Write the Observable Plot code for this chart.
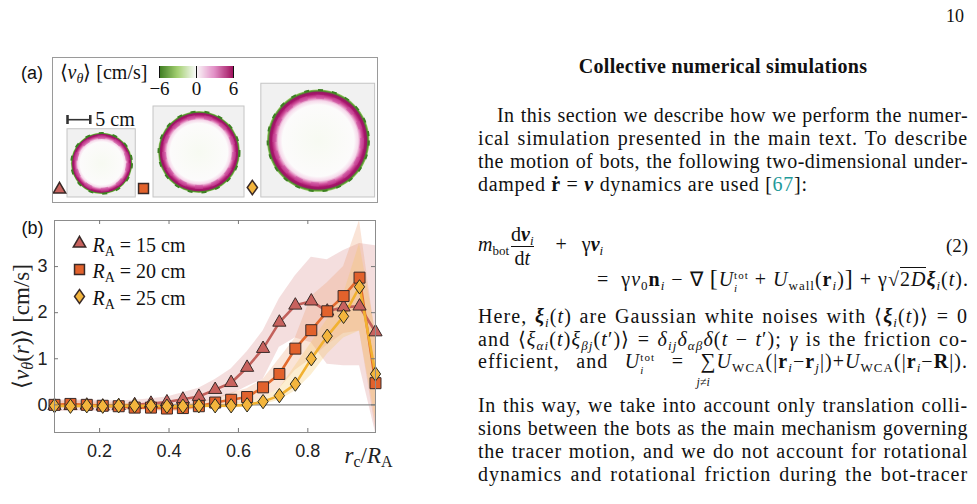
<!DOCTYPE html>
<html><head><meta charset="utf-8">
<script src="https://cdn.jsdelivr.net/npm/d3@7"></script>
<script src="https://cdn.jsdelivr.net/npm/@observablehq/plot@0.6"></script>
<style>
html,body{margin:0;padding:0;background:#fff;}
#page{position:relative;width:977px;height:504px;overflow:hidden;font-family:"Liberation Serif","Times New Roman",serif;color:#111;}
.abs{position:absolute;}
.ln{position:absolute;left:478px;width:490px;font-size:20px;line-height:23px;height:23px;white-space:nowrap;text-align:justify;text-align-last:justify;}
.ln.last{text-align-last:left;}
sub,sup{font-size:13px;line-height:0;}
sub{vertical-align:-4px;}
sup{vertical-align:7px;}
.frac{display:inline-block;vertical-align:middle;text-align:center;line-height:23px;margin:0 2px;}
.frac>span{display:block;}
.den{border-top:1px solid #111;}
.ss{display:inline-block;vertical-align:-6px;font-size:11px;line-height:13px;}
.ss>span{display:block;}
.sans{font-family:"Liberation Sans",Arial,sans-serif;}
.sum{position:relative;display:inline-block;font-size:21px;line-height:18px;}
.sum .lim{position:absolute;left:-4px;top:24px;font-size:12px;line-height:12px;font-style:italic;letter-spacing:0;}
</style></head>
<body><div id="page">
  <div class="abs" style="left:946px;top:6px;font-size:18px;">10</div>
  <div class="abs" style="left:478px;width:490px;top:55px;text-align:center;font-size:20px;font-weight:bold;letter-spacing:0.3px;">Collective numerical simulations</div>

  <div class="ln fit" data-f="0.8" style="top:104px;text-indent:19px;">In this section we describe how we perform the numer-</div>
  <div class="ln fit" data-f="0.8" style="top:127px;">ical simulation presented in the main text. To describe</div>
  <div class="ln fit" data-f="0.8" style="top:150px;">the motion of bots, the following two-dimensional under-</div>
  <div class="ln last" style="top:173px;">damped <b>ṙ</b> = <b><i>ν</i></b> dynamics are used [<span style="color:#1f9a9a">67</span>]:</div>

  <div class="abs" style="left:478px;top:223px;font-size:20px;white-space:nowrap;"><i>m</i><sub>bot</sub><span class="frac"><span>d<b><i>ν</i></b><sub><i>i</i></sub></span><span class="den">d<i>t</i></span></span>&nbsp;&nbsp;&nbsp; + &nbsp;&nbsp;γ<b><i>ν</i></b><sub><i>i</i></sub></div>
  <div class="abs" style="left:946px;top:235px;font-size:19px;">(2)</div>
  <div class="abs fit" data-f="1" data-w="373" style="left:597px;top:265px;font-size:20px;white-space:nowrap;">= &nbsp;γ<i>ν</i><sub>0</sub><b>n</b><sub><i>i</i></sub> − ∇ <span style="font-size:24px">[</span><i>U</i><span class="ss"><span>tot</span><span><i>i</i></span></span> + <i>U</i><sub>wall</sub>(<b>r</b><sub><i>i</i></sub>)<span style="font-size:24px">]</span> + γ√<span style="border-top:1px solid #111">2<i>D</i></span><b><i>ξ</i></b><sub><i>i</i></sub>(<i>t</i>).</div>

  <div class="ln fit" data-f="0.8" style="top:305px;">Here, <b><i>ξ</i></b><sub><i>i</i></sub>(<i>t</i>) are Gaussian white noises with ⟨<b><i>ξ</i></b><sub><i>i</i></sub>(<i>t</i>)⟩ = 0</div>
  <div class="ln fit" data-f="0.85" style="top:328px;">and ⟨<i>ξ</i><sub><i>αi</i></sub>(<i>t</i>)<i>ξ</i><sub><i>βj</i></sub>(<i>t</i>′)⟩ = <i>δ</i><sub><i>ij</i></sub><i>δ</i><sub><i>αβ</i></sub><i>δ</i>(<i>t</i> − <i>t</i>′); <i>γ</i> is the friction co-</div>
  <div class="ln fit" data-f="0.6" style="top:350px;">efficient, and <i>U</i><span class="ss"><span>tot</span><span><i>i</i></span></span> = <span class="sum">∑<span class="lim">j≠i</span></span><i>U</i><sub>WCA</sub>(|<b>r</b><sub><i>i</i></sub>−<b>r</b><sub><i>j</i></sub>|)+<i>U</i><sub>WCA</sub>(|<b>r</b><sub><i>i</i></sub>−<b>R</b>|).</div>
  <div class="ln fit" data-f="0.8" style="top:394px;">In this way, we take into account only translation colli-</div>
  <div class="ln fit" data-f="0.8" style="top:417px;">sions between the bots as the main mechanism governing</div>
  <div class="ln fit" data-f="0.8" style="top:440px;">the tracer motion, and we do not account for rotational</div>
  <div class="ln fit" data-f="0.8" style="top:463px;">dynamics and rotational friction during the bot-tracer</div>

  <div class="abs sans" style="left:21px;top:63px;font-size:18px;">(a)</div>
  <div id="panelA" class="abs" style="left:52px;top:57px;"></div>
  <div id="cbar" class="abs" style="left:147px;top:66px;"></div>
  <div id="panelB" class="abs" style="left:0px;top:200px;"></div>
</div>
<svg width="0" height="0" style="position:absolute">
  <defs>
    <radialGradient id="ringGrad" cx="50%" cy="50%" r="50%">
      <stop offset="0%" stop-color="#f7faf2"/>
      <stop offset="70%" stop-color="#fcfbfb"/>
      <stop offset="78%" stop-color="#f6d8ea"/>
      <stop offset="85%" stop-color="#d356a0"/>
      <stop offset="91%" stop-color="#a8146b"/>
      <stop offset="94.5%" stop-color="#951a63"/>
      <stop offset="97%" stop-color="#4f8f2c"/>
      <stop offset="100%" stop-color="#9ccf6a"/>
    </radialGradient>
  </defs>
</svg>
<script>
// ---------- data: panel (b) ----------
const rcOverRA = [0.070, 0.116, 0.163, 0.209, 0.255, 0.301, 0.348, 0.394, 0.440, 0.486, 0.533, 0.579, 0.625, 0.671, 0.718, 0.764, 0.810, 0.856, 0.903, 0.949, 0.995];
const seriesNames = ["R_A = 15 cm", "R_A = 20 cm", "R_A = 25 cm"];
const v15 = [-0.02,-0.02,-0.01,-0.03,-0.02,0.00,0.03,0.06,0.12,0.18,0.33,0.48,0.81,1.22,1.79,2.16,2.25,2.03,2.12,2.14,1.58];
const v15lo = [-0.15,-0.14,-0.13,-0.15,-0.13,-0.11,-0.07,-0.05,-0.02,0.02,0.12,0.22,0.40,0.55,1.25,1.45,1.35,0.88,0.85,0.85,-0.60];
const v15hi = [0.11,0.10,0.11,0.09,0.09,0.10,0.13,0.17,0.26,0.36,0.55,0.78,1.15,1.60,2.30,2.80,3.20,3.15,3.35,3.50,3.45];
const v20 = [0.00,0.02,0.00,-0.02,-0.03,-0.06,-0.06,-0.08,-0.07,-0.03,0.05,0.11,0.17,0.38,0.67,1.22,1.62,2.03,2.36,2.76,0.47];
const v20lo = [-0.07,-0.05,-0.07,-0.09,-0.10,-0.13,-0.13,-0.15,-0.14,-0.10,-0.02,0.02,0.05,0.15,0.35,0.75,1.00,1.30,1.55,1.60,-0.50];
const v20hi = [0.07,0.09,0.07,0.05,0.04,0.01,0.01,-0.01,0.00,0.04,0.15,0.25,0.35,0.55,1.00,1.45,2.35,2.65,3.00,4.00,1.50];
const v25 = [-0.02,-0.03,-0.02,-0.03,-0.02,-0.02,-0.02,-0.03,-0.03,-0.02,-0.02,-0.02,0.00,0.07,0.20,0.45,1.00,1.49,1.92,2.56,0.67];
const v25lo = [-0.07,-0.08,-0.07,-0.08,-0.07,-0.07,-0.07,-0.08,-0.08,-0.07,-0.07,-0.07,-0.05,0.00,0.10,0.30,0.65,1.10,1.45,1.60,-0.30];
const v25hi = [0.03,0.02,0.03,0.02,0.03,0.03,0.03,0.02,0.02,0.03,0.03,0.03,0.06,0.15,0.35,0.85,1.35,1.85,2.40,3.50,1.60];
const xTicks = [0.2, 0.4, 0.6, 0.8];
const yTicks = [0, 1, 2, 3];

// ---------- data: panel (a) ----------
const arenaRadiusCm = [15, 20, 25];
const colorbarTicks = [-6, 0, 6];
const scaleBarCm = 5;

// ---------- fit right-column lines ----------
const spacings = [];
document.querySelectorAll(".fit").forEach(el => {
  const target = parseFloat(el.dataset.w || "490") - (parseFloat(getComputedStyle(el).textIndent) || 0);
  const frac = parseFloat(el.dataset.f || "0.8");
  el.innerHTML = `<span class="in">${el.innerHTML}</span>`;
  el.style.textAlignLast = "left";
  const w = el.firstElementChild.getBoundingClientRect().width;
  const n = el.textContent.length;
  const ls = w < target ? (target - w) * frac / n : (target - w - 2) / n;
  el.style.letterSpacing = ls.toFixed(3) + "px";
  if (!el.dataset.w && frac === 0.8) spacings.push(ls);
  el.style.textAlignLast = el.dataset.w ? "left" : "justify";
  el.innerHTML = el.firstElementChild.innerHTML;
});
const meanLs = spacings.length ? spacings.reduce((a,b)=>a+b,0)/spacings.length : 0;
document.querySelectorAll(".ln.last").forEach(el => { el.style.letterSpacing = meanLs.toFixed(3) + "px"; });

const col = {
  t: {fill:"#c8625e", line:"#c2615c", band:"#d98a8a"},
  s: {fill:"#e2622c", line:"#e36a2e", band:"#eb9560"},
  d: {fill:"#f3b53d", line:"#f1b131", band:"#f5c766"}
};
const tallDiamond = {draw(ctx, size){ const r=Math.sqrt(size/Math.PI); const w=r*0.8, h=r*1.12; ctx.moveTo(0,-h); ctx.lineTo(w,0); ctx.lineTo(0,h); ctx.lineTo(-w,0); ctx.closePath(); }};

const mk = (ys, lo, hi) => rcOverRA.map((x,i)=>({x, y: ys[i], lo: lo[i], hi: hi[i]}));
const d15 = mk(v15, v15lo, v15hi), d20 = mk(v20, v20lo, v20hi), d25 = mk(v25, v25lo, v25hi);

const fw = 321, fh = 212; // frame size in px (style)
const serif = "Liberation Serif, Times New Roman, serif";
const legendDy = [23, 49, 76];
const legendSym = ["triangle", "square", tallDiamond];
const legendR = [4.6, 5.6, 6.2];
const legendFill = [col.t.fill, col.s.fill, col.d.fill];

const chartB = Plot.plot({
  width: 400, height: 280,
  marginLeft: 54, marginRight: 25, marginTop: 20, marginBottom: 48,
  x: {domain: [0.07, 0.995]},
  y: {domain: [-0.6, 4.0]},
  style: {fontFamily: "Liberation Sans, Arial, sans-serif", fontSize: "18px", color: "#222", background: "transparent", overflow: "visible"},
  marks: [
    Plot.areaY(d15, {x:"x", y1:"lo", y2:"hi", fill: col.t.band, fillOpacity: 0.28}),
    Plot.areaY(d20, {x:"x", y1:"lo", y2:"hi", fill: col.s.band, fillOpacity: 0.25}),
    Plot.areaY(d25, {x:"x", y1:"lo", y2:"hi", fill: col.d.band, fillOpacity: 0.3}),
    Plot.ruleY([0], {stroke: "#8a8a8a", strokeWidth: 1.2}),
    Plot.line(d15, {x:"x", y:"y", stroke: col.t.line, strokeWidth: 2.6}),
    Plot.line(d20, {x:"x", y:"y", stroke: col.s.line, strokeWidth: 2.6}),
    Plot.line(d25, {x:"x", y:"y", stroke: col.d.line, strokeWidth: 2.6}),
    Plot.dot(d15, {x:"x", y:"y", symbol:"triangle", r: 4.9, fill: col.t.fill, stroke:"#3a2a28", strokeWidth: 1}),
    Plot.dot(d20, {x:"x", y:"y", symbol:"square", r: 6.2, fill: col.s.fill, stroke:"#3a2a28", strokeWidth: 1}),
    Plot.dot(d25, {x:"x", y:"y", symbol: tallDiamond, r: 6.4, fill: col.d.fill, stroke:"#2a2a20", strokeWidth: 1}),
    Plot.frame({stroke: "#8c8c8c", strokeWidth: 1}),
    Plot.tickX(xTicks, {x: d=>d, insetTop: fh-4, stroke:"#777"}),
    Plot.tickX(xTicks, {x: d=>d, insetBottom: fh-4, stroke:"#777"}),
    Plot.tickY(yTicks, {y: d=>d, insetRight: fw-4, stroke:"#777"}),
    Plot.tickY(yTicks, {y: d=>d, insetLeft: fw-4, stroke:"#777"}),
    Plot.axisX({ticks: xTicks, tickSize: 0, tickPadding: 12, tickFormat: d=>d.toFixed(1), label: null}),
    Plot.axisY({ticks: yTicks, tickSize: 0, tickPadding: 7, tickFormat: d=>String(d), label: null}),
    // legend
    ...seriesNames.map((s, i) => Plot.dot([s], {frameAnchor:"top-left", dx: 25, dy: legendDy[i], symbol: legendSym[i], r: legendR[i], fill: legendFill[i], stroke:"#3a2a28"})),
    ...seriesNames.map((s, i) => Plot.text([s], {frameAnchor:"top-left", text: d=>"@"+d, dx: 38, dy: legendDy[i] + 2, lineAnchor:"middle", textAnchor:"start", fontFamily: serif, fontSize: 20, fill:"#111"})),
    Plot.text(["@xlab"], {frameAnchor:"bottom-right", text: d=>d, dx: 17, dy: 23, lineAnchor:"middle", textAnchor:"end", fontFamily: serif, fontSize: 23, fill:"#222"}),
    Plot.text(["@ylab"], {frameAnchor:"left", text: d=>d, dx: -33, dy: 0, rotate: -90, textAnchor:"middle", lineAnchor:"middle", fontFamily: serif, fontSize: 23, fill:"#222"}),
    Plot.text(["(b)"], {frameAnchor:"top-left", text: d=>d, dx: -22, dy: 8, textAnchor:"middle", lineAnchor:"middle", fontSize: 18, fill:"#111"})
  ]
});
document.getElementById("panelB").appendChild(chartB);

const sub = (s, fs=14) => `<tspan font-size="${fs}" dy="4">${s}</tspan>`;
const subEnd = (s) => `<tspan dy="-4">${s}</tspan>`;
const htmlMap = {
  "@R_A = 15 cm": `<tspan font-style="italic">R</tspan>${sub("A")}${subEnd(" = 15 cm")}`,
  "@R_A = 20 cm": `<tspan font-style="italic">R</tspan>${sub("A")}${subEnd(" = 20 cm")}`,
  "@R_A = 25 cm": `<tspan font-style="italic">R</tspan>${sub("A")}${subEnd(" = 25 cm")}`,
  "@xlab": `<tspan font-style="italic">r</tspan>${sub("c",16)}${subEnd("/")}<tspan font-style="italic">R</tspan>${sub("A",16)}`,
  "@ylab": `⟨<tspan font-style="italic">ν</tspan><tspan font-style="italic" font-size="16" dy="4">θ</tspan><tspan dy="-4">(</tspan><tspan font-style="italic">r</tspan>)⟩ [cm/s]`
};
chartB.querySelectorAll("text").forEach(t => {
  const k = t.textContent;
  if (htmlMap[k]) t.innerHTML = htmlMap[k];
});

// ---------- panel (a) ----------
const pxPerCm = 4.55, aW = 325, aH = 145;
const arenaCx = [10.8, 32.2, 58.4];
const bottomCm = 1.1;
const scaleBarX = 3.3, scaleBarY = 18.2;
const arenas = arenaRadiusCm.map((R, i) => ({R, cx: arenaCx[i], cy: bottomCm + R/2, side: R}));
const chartA = Plot.plot({
  width: aW, height: aH, margin: 0,
  x: {domain: [0, aW/pxPerCm], axis: null},
  y: {domain: [0, aH/pxPerCm], axis: null},
  r: {type: "identity"},
  style: {fontFamily: serif, fontSize: "18px", background: "#fff", overflow: "visible"},
  marks: [
    Plot.rect(arenas, {x1: d=>d.cx-d.side/2, x2: d=>d.cx+d.side/2, y1: d=>d.cy-d.side/2, y2: d=>d.cy+d.side/2, fill:"#f1f1f1", stroke:"#c4c4c4"}),
    Plot.dot(arenas, {x:"cx", y:"cy", r: d=>d.side*pxPerCm*0.45, fill:"url(#ringGrad)"}),
    Plot.dot(arenas, {x:"cx", y:"cy", r: d=>d.side*pxPerCm*0.445, stroke:"#3d7f22", strokeWidth: 2, strokeDasharray:"5 9", fill:"none"}),
    Plot.dot(arenas, {x:"cx", y:"cy", r: d=>d.side*pxPerCm*0.385, stroke:"#c8489a", strokeWidth: 4, strokeOpacity: 0.5, strokeDasharray:"8 9", fill:"none"}),
    Plot.dot([arenas[0]], {x: d=>d.cx-d.side/2, y: bottomCm, dx: -8, dy: -8, symbol:"triangle", r: 4.6, fill: col.t.fill, stroke:"#3a2a28"}),
    Plot.dot([arenas[1]], {x: d=>d.cx-d.side/2, y: bottomCm, dx: -10, dy: -9, symbol:"square", r: 5.6, fill: col.s.fill, stroke:"#3a2a28"}),
    Plot.dot([arenas[2]], {x: d=>d.cx-d.side/2, y: bottomCm, dx: -9, dy: -10, symbol: tallDiamond, r: 6.4, fill: col.d.fill, stroke:"#3a2a28"}),
    Plot.link([scaleBarCm], {x1: scaleBarX, x2: d=>scaleBarX+d, y1: scaleBarY, y2: scaleBarY, stroke:"#333", strokeWidth: 1.6, markerStart:"tick", markerEnd:"tick"}),
    Plot.text([scaleBarCm], {x: d=>scaleBarX+d, y: scaleBarY, dx: 5, text: d=>`${d} cm`, textAnchor:"start", fontSize: 20, fill:"#111"}),
    Plot.text(["@alab"], {frameAnchor:"top-left", dx: 7, dy: 7, text: d=>d, textAnchor:"start", fontSize: 20, fill:"#111"}),
    Plot.frame({stroke:"#9a9a9a"})
  ]
});
chartA.querySelectorAll("text").forEach(t => {
  if (t.textContent === "@alab") t.innerHTML = `⟨<tspan font-style="italic">ν</tspan><tspan font-style="italic" font-size="14" dy="4">θ</tspan><tspan dy="-4">⟩ [cm/s]</tspan>`;
});
document.getElementById("panelA").appendChild(chartA);

// colorbar
const cbar = Plot.legend({
  color: {type: "linear", domain: [-6, -3, 0, 3, 6], range: ["#3c7b1f", "#a4d072", "#fbfbfb", "#e28fc6", "#a1135f"]},
  ticks: colorbarTicks, tickSize: 0, tickFormat: d => d < 0 ? "−" + Math.abs(d) : String(d),
  width: 98, height: 40, marginLeft: 12, marginRight: 12, marginTop: 0, marginBottom: 28,
  style: {fontFamily: serif, fontSize: "19px", color: "#111", overflow: "visible", background: "transparent"}
});
document.getElementById("cbar").appendChild(cbar);
</script>
</body></html>
